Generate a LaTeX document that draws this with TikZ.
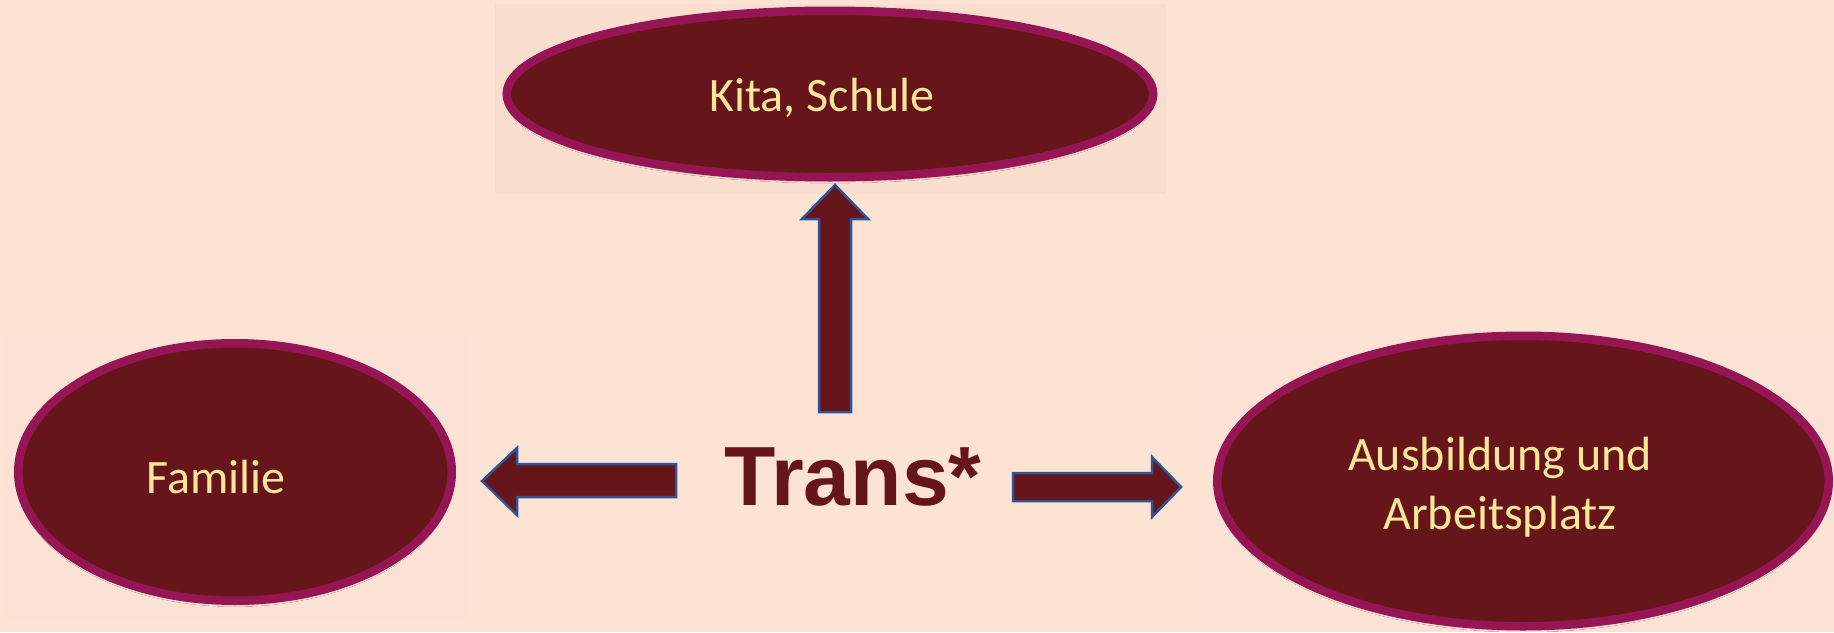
\documentclass[tikz,border=0pt]{standalone}
\usepackage{fontspec}
\setmainfont{Carlito}
\newfontfamily\headfont{Liberation Sans}
\usetikzlibrary{shapes.geometric,shadows.blur}

\definecolor{bgpeach}{HTML}{FCE3D4}
\definecolor{boxpeach}{HTML}{F9DED0}
\definecolor{boxlight}{HTML}{FBE2D4}
\definecolor{wine}{HTML}{66161B}
\definecolor{rimplum}{HTML}{961655}
\definecolor{labelgold}{HTML}{FFE699}
\definecolor{arrowrim}{HTML}{2F5597}

\tikzset{
  area/.style={ellipse, draw=rimplum, line width=8.5pt, fill=wine, inner sep=0pt,
    blur shadow={shadow xshift=0pt, shadow yshift=-4pt, shadow opacity=15, shadow blur steps=8}},
  arealabel/.style={text=labelgold, align=center, font=\fontsize{48}{59}\selectfont},
  blockarrow/.style={fill=wine, draw=arrowrim, line width=2.5pt, line join=miter},
  panel/.style={fill=#1, draw=none},
}

\begin{document}
\begin{tikzpicture}[x=1pt, y=-1pt]
  % page
  \fill[bgpeach] (0,0) rectangle (1834,632);
  \useasboundingbox (0,0) rectangle (1834,632);

  % faint panels behind the three areas
  \fill[panel=boxpeach] (495,4) rectangle (1166,194);
  \fill[panel=boxlight] (6,336) rectangle (467,618);
  \fill[panel=boxlight] (1204,327) rectangle (1834,632);

  % the three areas
  \node[area, minimum width=646.5pt, minimum height=166.5pt] (school) at (830,94) {};
  \node[arealabel] (schooltext) at (822,98) {Kita, Schule};

  \node[area, minimum width=433.5pt, minimum height=257.5pt] (family) at (235,472) {};
  \node[arealabel] (familytext) at (216,477) {Familie};

  \node[area, minimum width=611.5pt, minimum height=290.5pt] (work) at (1523,481) {};
  \node[arealabel] (worktext) at (1500,487) {Ausbildung und\\Arbeitsplatz};

  % centre label
  \node[text=wine, font=\headfont\bfseries\fontsize{84}{90}\selectfont, anchor=base] (trans) at (853,505) {Trans*};

  % block arrows pointing from the centre label to the areas
  \coordinate (upTip) at (835,185);
  \coordinate (leftTip) at (482,481);
  \coordinate (rightTip) at (1181,487);

  \draw[blockarrow] (819,412) -- (819,219) -- (802,219) -- (upTip) -- (868,219) -- (851,219) -- (851,412) -- cycle;
  \draw[blockarrow] (676,464) -- (517,464) -- (517,448) -- (leftTip) -- (517,515) -- (517,497) -- (676,497) -- cycle;
  \draw[blockarrow] (1013,473) -- (1152,473) -- (1152,457) -- (rightTip) -- (1152,517) -- (1152,501) -- (1013,501) -- cycle;
\end{tikzpicture}
\end{document}
